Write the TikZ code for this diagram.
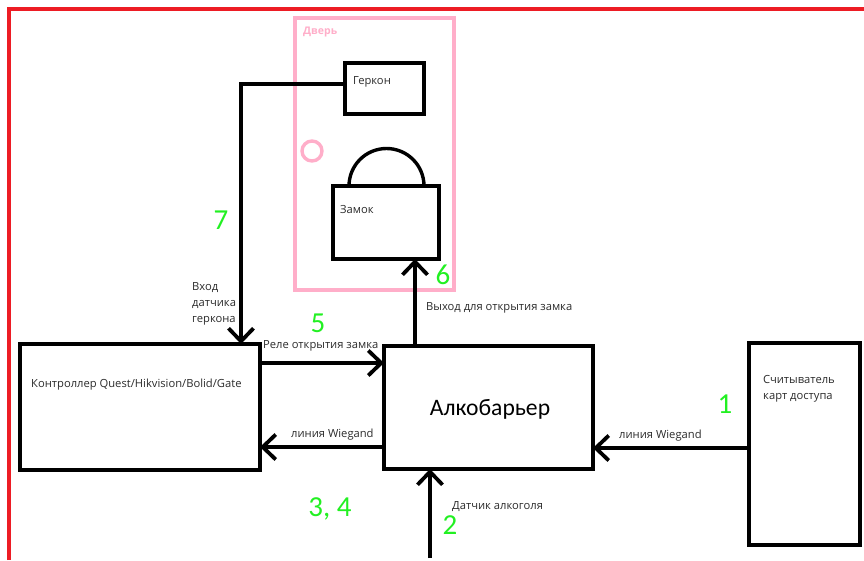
\documentclass[tikz,border=0pt]{standalone}
\usepackage{fontspec}
\setmainfont{Open Sans}
\newfontfamily\calibrifont{Carlito}
\usetikzlibrary{arrows.meta}
\definecolor{doorpink}{HTML}{FFAEC9}
\definecolor{framered}{HTML}{ED1C24}
\definecolor{numgreen}{HTML}{22F022}
\definecolor{labelgray}{HTML}{2B2B2B}
\tikzset{
  blockbox/.style={draw=black,line width=3.8pt,anchor=north west,inner sep=0pt,outer sep=0pt},
  wire/.style={black,line width=3.8pt,-{Straight Barb[length=13pt,width=25pt]}},
  caption/.style={anchor=west,inner sep=0pt,yshift=-1.5pt,text=labelgray,font=\fontsize{11.2}{16}\selectfont,align=left},
  digit/.style={inner sep=0pt,text=numgreen,font=\calibrifont\fontsize{29}{29}\selectfont},
}
\begin{document}
\begin{tikzpicture}[x=1pt,y=-1pt]
  \useasboundingbox (0,0) rectangle (864,560);
  \draw[framered,line width=4.4pt] (9,560)--(9,9)--(864,9);
  \node[draw=doorpink,line width=3.6pt,anchor=north west,inner sep=0pt,outer sep=0pt,minimum width=159pt,minimum height=272pt] (door) at (295,18) {};
  \node[anchor=west,inner sep=0pt,text=doorpink,font=\bfseries\fontsize{10.5}{12}\selectfont] (doorlabel) at (303,32) {Дверь};
  \draw[doorpink,line width=3.4pt] (312,151) circle (10);
  \node[blockbox,minimum width=79pt,minimum height=51pt] (gerkon) at (345,63) {};
  \node[blockbox,minimum width=106pt,minimum height=73pt] (zamok) at (333,186) {};
  \draw[black,line width=3.4pt] (349,186) arc[start angle=180,end angle=360,radius=37.5];
  \node[blockbox,minimum width=240pt,minimum height=126pt] (ctrl) at (20,344) {};
  \node[blockbox,minimum width=209pt,minimum height=123pt] (alco) at (384,346) {};
  \node[blockbox,minimum width=111pt,minimum height=202pt] (reader) at (749,343) {};
  \coordinate (bend) at (241,84);
  \coordinate (sensor) at (430,558);
  \draw[wire] (gerkon.west |- bend) -- (bend) -- (ctrl.north -| bend);
  \draw[wire] (ctrl.east |- 0,363) -- (alco.west |- 0,363);
  \draw[wire] (alco.west |- 0,447) -- (ctrl.east |- 0,447);
  \draw[wire] (reader.west |- 0,448) -- (alco.east |- 0,448);
  \draw[wire] (sensor) -- (alco.south -| sensor);
  \draw[wire] (alco.north -| 415,0) -- (zamok.south -| 415,0);
  \node[caption] (gerkonlabel) at (353,80) {Геркон};
  \node[caption] (zamoklabel) at (340,208) {Замок};
  \node[caption] (inputlabel) at (192,302) {Вход\\датчика\\геркона};
  \node[caption] (relaylabel) at (263,344) {Реле открытия замка};
  \node[caption] (outputlabel) at (426,306) {Выход для открытия замка};
  \node[caption] (ctrllabel) at (31,383) {Контроллер Quest/Hikvision/Bolid/Gate};
  \node[caption] (wiegandleft) at (291,433) {линия Wiegand};
  \node[caption] (wiegandright) at (619,434) {линия Wiegand};
  \node[caption] (alcolabel) at (452,505) {Датчик алкоголя};
  \node[caption] (readerlabel) at (763,387) {Считыватель\\карт доступа};
  \node[inner sep=0pt,font=\calibrifont\fontsize{23.6}{24}\selectfont] (alcotitle) at (490,409) {Алкобарьер};
  \node[digit] (num1) at (725,404) {1};
  \node[digit] (num2) at (450,525) {2};
  \node[digit] (num34) at (330,509) {3, 4};
  \node[digit] (num5) at (318,323) {5};
  \node[digit] (num6) at (443,275) {6};
  \node[digit] (num7) at (221,220) {7};
\end{tikzpicture}
\end{document}
